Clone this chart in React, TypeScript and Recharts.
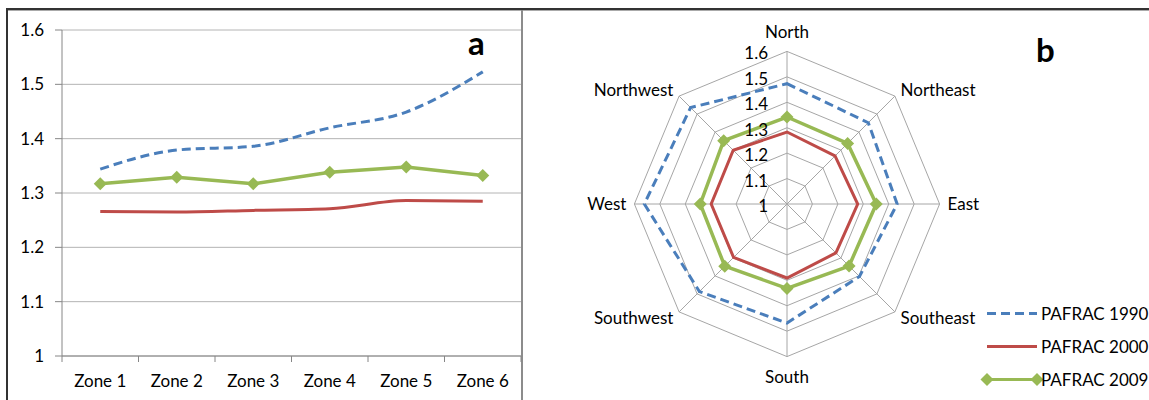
import React from 'react';
import {
  LineChart, Line, XAxis, YAxis, CartesianGrid,
  RadarChart, Radar, PolarGrid, PolarAngleAxis, PolarRadiusAxis, Legend,
} from 'recharts';

// panel a: PAFRAC by zone
const zones = ['Zone 1', 'Zone 2', 'Zone 3', 'Zone 4', 'Zone 5', 'Zone 6'];
const zone1990 = [1.344, 1.379, 1.386, 1.42, 1.449, 1.523];
const zone2000 = [1.266, 1.265, 1.268, 1.271, 1.286, 1.285];
const zone2009 = [1.317, 1.329, 1.317, 1.338, 1.348, 1.332];

// panel b: PAFRAC by direction
const directions = ['North', 'Northeast', 'East', 'Southeast', 'South', 'Southwest', 'West', 'Northwest'];
const dir1990 = [1.473, 1.452, 1.433, 1.403, 1.468, 1.487, 1.561, 1.536];
const dir2000 = [1.283, 1.267, 1.278, 1.272, 1.291, 1.297, 1.298, 1.299];
const dir2009 = [1.342, 1.337, 1.351, 1.345, 1.332, 1.346, 1.341, 1.352];

const valueTicks = [1, 1.1, 1.2, 1.3, 1.4, 1.5, 1.6];

const BLUE = '#4a7ebb';
const RED = '#be4b48';
const GREEN = '#98b954';
const FONT = 'Lato, "Liberation Sans", sans-serif';

const zoneData = zones.map((zone, i) => ({
  zone,
  p1990: zone1990[i],
  p2000: zone2000[i],
  p2009: zone2009[i],
}));

const dirData = directions.map((dir, i) => ({
  dir,
  p1990: dir1990[i],
  p2000: dir2000[i],
  p2009: dir2009[i],
}));

// left chart layout
const LW = 522;
const LH = 400;
const Y_AXIS_W = 62;
const X_AXIS_H = 44;
const L_MARGIN = { top: 30, right: 1, left: 0, bottom: 0 };
const band = (LW - L_MARGIN.right - Y_AXIS_W) / zones.length;
const axisY = LH - X_AXIS_H;

// radar layout
const RCX = 264;
const RCY = 204;

const Diamond = (props: any) => {
  const { cx, cy, index } = props;
  if (cx == null || cy == null) return null;
  const s = 6.5;
  return (
    <path
      key={`d-${index}`}
      d={`M${cx},${cy - s}L${cx + s},${cy}L${cx},${cy + s}L${cx - s},${cy}Z`}
      fill={GREEN}
      stroke="none"
    />
  );
};

const ZoneTick = (props: any) => {
  const { x, payload, index } = props;
  const left = x - band / 2;
  return (
    <g>
      <line x1={left} x2={left} y1={axisY} y2={axisY + 6} stroke="#868686" />
      {index === zones.length - 1 && (
        <line x1={x + band / 2} x2={x + band / 2} y1={axisY} y2={axisY + 6} stroke="#868686" />
      )}
      <text x={x} y={axisY + 31} textAnchor="middle" fontSize={17} fill="#000" fontFamily={FONT}>
        {payload.value}
      </text>
    </g>
  );
};

const DirTick = (props: any) => {
  const { x, y, payload, textAnchor } = props;
  let dy = 6;
  if (textAnchor === 'middle') dy = y < RCY ? -5 : 18;
  return (
    <text x={x} y={y + dy} textAnchor={textAnchor} fontSize={17} fill="#000" fontFamily={FONT}>
      {payload.value}
    </text>
  );
};

const RadiusTick = (props: any) => {
  const { x, y, payload } = props;
  return (
    <text x={x - 19} y={y + 8} textAnchor="end" fontSize={17} fill="#000" fontFamily={FONT}>
      {payload.value}
    </text>
  );
};

const series = [
  { key: 'p1990', name: 'PAFRAC 1990', color: BLUE, dash: '9 5' },
  { key: 'p2000', name: 'PAFRAC 2000', color: RED, dash: undefined },
  { key: 'p2009', name: 'PAFRAC 2009', color: GREEN, dash: undefined },
];

const renderLegend = () => (
  <div style={{ fontFamily: FONT, fontSize: 17, color: '#000' }}>
    {series.map((s) => (
      <div key={s.key} style={{ display: 'flex', alignItems: 'center', height: 33 }}>
        <svg width={58} height={33} style={{ overflow: 'visible' }}>
          <line x1={4} x2={54} y1={16.5} y2={16.5} stroke={s.color} strokeWidth={3} strokeDasharray={s.dash} />
          {s.key === 'p2009' && (
            <>
              <path d="M4,10L10.5,16.5L4,23L-2.5,16.5Z" fill={GREEN} />
              <path d="M54,10L60.5,16.5L54,23L47.5,16.5Z" fill={GREEN} />
            </>
          )}
        </svg>
        <span style={{ whiteSpace: 'nowrap' }}>{s.name}</span>
      </div>
    ))}
  </div>
);

export default function App() {
  return (
    <div style={{ position: 'fixed', left: 0, top: 0, width: 1149, height: 400, background: '#fff', overflow: 'hidden' }}>
      {/* frame */}
      <div style={{ position: 'absolute', left: 6, top: 8, width: 1149, height: 2, background: '#333' }} />
      <div style={{ position: 'absolute', left: 6, top: 10, width: 1149, height: 1, background: '#aaa' }} />
      <div style={{ position: 'absolute', left: 6, top: 8, width: 2, height: 400, background: '#333' }} />
      <div style={{ position: 'absolute', left: 521, top: 10, width: 2, height: 400, background: '#8c8c8c' }} />

      <div style={{ position: 'absolute', left: 0, top: 0 }}>
        <LineChart width={LW} height={LH} data={zoneData} margin={L_MARGIN}>
          <CartesianGrid vertical={false} stroke="#b4b4b4" />
          <XAxis
            dataKey="zone"
            scale="band"
            height={X_AXIS_H}
            tickLine={false}
            axisLine={{ stroke: '#868686' }}
            tick={<ZoneTick />}
            interval={0}
          />
          <YAxis
            width={Y_AXIS_W}
            domain={[1, 1.6]}
            ticks={valueTicks}
            tickSize={7}
            tickMargin={11}
            axisLine={{ stroke: '#868686' }}
            tickLine={{ stroke: '#868686' }}
            tick={{ fill: '#000', fontSize: 17, fontFamily: FONT }}
          />
          <Line type="monotone" dataKey="p1990" name="PAFRAC 1990" stroke={BLUE} strokeWidth={3} strokeDasharray="9 5" dot={false} activeDot={false} isAnimationActive={false} />
          <Line type="monotone" dataKey="p2000" name="PAFRAC 2000" stroke={RED} strokeWidth={3} dot={false} activeDot={false} isAnimationActive={false} />
          <Line type="linear" dataKey="p2009" name="PAFRAC 2009" stroke={GREEN} strokeWidth={3.5} dot={<Diamond />} activeDot={false} isAnimationActive={false} />
        </LineChart>
      </div>
      <div style={{ position: 'absolute', left: 468, top: 22, fontFamily: FONT, fontWeight: 'bold', fontSize: 33 }}>a</div>

      <div style={{ position: 'absolute', left: 523, top: 0 }}>
        <RadarChart width={626} height={400} data={dirData} cx={RCX} cy={RCY} innerRadius={0} outerRadius={152.6} margin={{ top: 0, right: 0, bottom: 0, left: 0 }}>
          <PolarGrid gridType="polygon" stroke="#a6a6a6" />
          <PolarAngleAxis dataKey="dir" tick={<DirTick />} tickLine={false} axisLine={false} />
          <PolarRadiusAxis
            angle={90}
            type="number"
            domain={[1, 1.6]}
            ticks={valueTicks as any}
            tickCount={7}
            allowDecimals
            allowDataOverflow
            axisLine={false}
            tickLine={false}
            tick={<RadiusTick />}
          />
          <Radar dataKey="p1990" name="PAFRAC 1990" stroke={BLUE} strokeWidth={3} strokeDasharray="9 5" fill="none" fillOpacity={0} dot={false} isAnimationActive={false} />
          <Radar dataKey="p2000" name="PAFRAC 2000" stroke={RED} strokeWidth={3} fill="none" fillOpacity={0} dot={false} isAnimationActive={false} />
          <Radar dataKey="p2009" name="PAFRAC 2009" stroke={GREEN} strokeWidth={3.5} fill="none" fillOpacity={0} dot={<Diamond />} isAnimationActive={false} />
          <Legend content={renderLegend} wrapperStyle={{ position: 'absolute', left: 460, top: 297, width: 170 }} />
        </RadarChart>
      </div>
      <div style={{ position: 'absolute', left: 1036, top: 29, fontFamily: FONT, fontWeight: 'bold', fontSize: 33 }}>b</div>
    </div>
  );
}
